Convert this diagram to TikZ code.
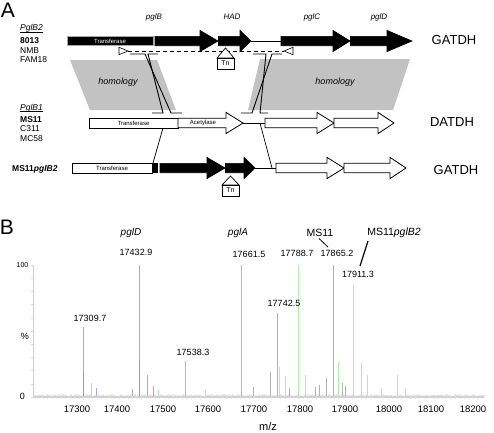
\documentclass[tikz,border=0pt]{standalone}
\usepackage{fontspec}
\setmainfont{Liberation Sans}
\definecolor{homgray}{gray}{0.76}
\definecolor{pkblue}{rgb}{0.66,0.66,0.90}
\definecolor{pkpink}{rgb}{0.94,0.64,0.64}
\definecolor{pkgreen}{rgb}{0.68,0.93,0.68}
\definecolor{pkgray}{gray}{0.70}
\newcommand\genearrow[5]{%
  \draw[#1] (#2,#5-4.7) -- (#3,#5-4.7) -- (#3,#5-10.6) -- (#4,#5) -- (#3,#5+10.6) -- (#3,#5+4.7) -- (#2,#5+4.7) -- cycle;}
\newcommand\specpeak[3]{\draw[#1] (#2,396) -- (#2,#3);}
\begin{document}
\begin{tikzpicture}[x=1pt,y=-1pt,line join=miter,
  genelbl/.style={font=\fontsize{8}{9}\selectfont\itshape, inner sep=0},
  strain/.style={font=\fontsize{8.5}{10}\selectfont, anchor=base west, inner sep=0},
  boxtxt/.style={font=\fontsize{6}{7}\selectfont, inner sep=0},
  bigtxt/.style={font=\fontsize{13}{15}\selectfont, inner sep=0},
  numtxt/.style={font=\fontsize{9}{10}\selectfont, inner sep=0},
  ticktxt/.style={font=\fontsize{9.5}{10}\selectfont, inner sep=0},
  paneltxt/.style={font=\fontsize{21}{23}\selectfont, inner sep=0},
  blackgene/.style={fill=black, draw=black, line width=0.6pt},
  whitegene/.style={fill=white, draw=black, line width=0.8pt},
  thinline/.style={draw=black, line width=0.7pt},
  crossline/.style={draw=black, line width=0.9pt},
  homol/.style={fill=homgray, draw=none}]
\useasboundingbox (0,0) rectangle (494,432);

% ---------------- Panel A ----------------
\node[paneltxt] (labA) at (8,10) {A};

% gene names
\node[genelbl] (gB) at (154,17) {pglB};
\node[genelbl] (gHAD) at (232,17) {HAD};
\node[genelbl] (gC) at (312,17) {pglC};
\node[genelbl] (gD) at (379,17) {pglD};

% strain labels
\node[strain] (s1) at (20,30.5) {\textit{PglB2}};
\draw[black, line width=0.5pt] (s1.base west) ++(0,1.6) -- ++(22.5,0);
\node[strain] (s2) at (20,43.5) {\bfseries 8013};
\node[strain] (s3) at (20,53) {NMB};
\node[strain] (s4) at (20,62.5) {FAM18};
\node[strain] (s5) at (20,110) {\textit{PglB1}};
\draw[black, line width=0.5pt] (s5.base west) ++(0,1.6) -- ++(22.5,0);
\node[strain] (s6) at (20,122) {\bfseries MS11};
\node[strain] (s7) at (20,131.5) {C311};
\node[strain] (s8) at (20,141.5) {MC58};
\node[strain] (s9) at (12,171.5) {\bfseries MS11\textit{pglB2}};

% homology regions
\fill[homol] (70,60) -- (157,60) -- (176,110) -- (90,110) -- cycle;
\fill[homol] (260,59) -- (410,59) -- (393,110) -- (248,110) -- cycle;
\node[font=\fontsize{9}{10}\selectfont\itshape, inner sep=0] (h1) at (118,82) {homology};
\node[font=\fontsize{9}{10}\selectfont\itshape, inner sep=0] (h2) at (335,82) {homology};

% Row 1 (GATDH)
\draw[fill=black, draw=gray!70, line width=0.8pt] (67,36.5) rectangle (153,45.5);
\node[boxtxt, text=white] (t1) at (110,41) {Transferase};
\genearrow{blackgene}{155}{200}{218}{41}
\genearrow{blackgene}{218.5}{240}{251}{41}
\coordinate (r1a) at (251,41);
\coordinate (r1b) at (281,41);
\draw[thinline] (r1a) -- (r1b);
\genearrow{blackgene}{281}{333}{350}{41}
\genearrow{blackgene}{350.5}{387}{412}{41}
\node[bigtxt] (g1) at (454,40) {GATDH};

% primers and dashed line
\coordinate (pl) at (128,51);
\coordinate (pr) at (284,51);
\draw[thinline, dash pattern=on 4pt off 3pt] (pl) -- (pr);
\draw[fill=white, draw=black, line width=0.6pt] (119,47.3) -- (128,51) -- (119,54.7) -- cycle;
\draw[fill=white, draw=black, line width=0.6pt] (293,47.3) -- (284,51) -- (293,54.7) -- cycle;

% Tn row 1
\draw[fill=white, draw=black, line width=0.7pt] (225.5,48) -- (234,58) -- (217,58) -- cycle;
\node[draw=black, line width=0.7pt, fill=white, minimum width=17pt, minimum height=11pt, inner sep=0, font=\fontsize{7}{8}\selectfont] (tn1) at (225.5,63.5) {Tn};

% crossovers
\draw[crossline] (130,54) -- (145,54) -- (171,113) -- (182,113);
\draw[crossline] (158,54) -- (148,54) -- (163,113) -- (152,113);
\draw[crossline] (282,54) -- (272,54) -- (252,113) -- (241,113);
\draw[crossline] (253,54) -- (266,54) -- (260,113) -- (268,113);

% Row 2 (DATDH)
\draw[whitegene] (89,118) rectangle (178,128);
\node[boxtxt] (t2) at (133.5,123) {Transferase};
\genearrow{whitegene}{178}{226}{243}{123}
\node[boxtxt] (ac) at (203,123) {Acetylase};
\coordinate (r2a) at (243,123);
\coordinate (r2b) at (265,123);
\draw[thinline] (r2a) -- (r2b);
\genearrow{whitegene}{265}{317}{334}{123}
\genearrow{whitegene}{334}{378}{394}{123}
\node[bigtxt] (g2) at (452,122) {DATDH};

% Row 3 (MS11pglB2)
\draw[whitegene] (72,163) rectangle (152,173);
\node[boxtxt] (t3) at (112,168) {Transferase};
\fill[black] (152,163) rectangle (158,173);
\genearrow{blackgene}{160}{207}{225}{168}
\genearrow{blackgene}{225.5}{244}{255}{168}
\coordinate (r3a) at (255,168);
\coordinate (r3b) at (276,168);
\draw[thinline] (r3a) -- (r3b);
\genearrow{whitegene}{276}{327}{344}{168}
\genearrow{whitegene}{344}{390}{406}{168}
\node[bigtxt] (g3) at (456,170) {GATDH};

% Tn row 3
\draw[fill=white, draw=black, line width=0.7pt] (230.5,176) -- (239,185) -- (222,185) -- cycle;
\node[draw=black, line width=0.7pt, fill=white, minimum width=17pt, minimum height=11pt, inner sep=0, font=\fontsize{7}{8}\selectfont] (tn2) at (230.5,190.5) {Tn};

% connecting lines row2 -> row3
\coordinate (c1a) at (163,128);
\coordinate (c1b) at (153,163);
\coordinate (c2a) at (260,123);
\coordinate (c2b) at (272,168);
\draw[thinline] (c1a) -- (c1b);
\draw[thinline] (c2a) -- (c2b);

% ---------------- Panel B ----------------
\node[paneltxt] (labB) at (7,227) {B};

% axes
\coordinate (ytop) at (33,265);
\coordinate (ybot) at (33,397);
\coordinate (xend) at (485,397);
\draw[gray!35, line width=0.5pt] (ytop) -- (ybot);
\foreach \t in {0,...,10} {\draw[gray!30, line width=0.4pt] (31,265+13.2*\t) -- (33,265+13.2*\t);}
\draw[gray!35, line width=0.5pt] (ybot) -- (xend);
\foreach \t in {0,...,100} {\draw[gray!25, line width=0.3pt] (34+4.48*\t,397) -- (34+4.48*\t,399);}

% noise
\pgfmathsetseed{2718}
\foreach \i in {34,36,...,484} {
  \pgfmathsetmacro\hh{rnd*2}
  \pgfmathsetmacro\cc{int(mod(\i,8)/2)}
  \ifcase\cc\relax
    \draw[pkgray!60, line width=0.35pt] (\i,396) -- (\i+1,396-\hh) -- (\i+2,396);
  \or
    \draw[pkpink!60, line width=0.35pt] (\i,396) -- (\i+1,396-\hh) -- (\i+2,396);
  \or
    \draw[pkgreen!70, line width=0.35pt] (\i,396) -- (\i+1,396-\hh) -- (\i+2,396);
  \else
    \draw[pkblue!60, line width=0.35pt] (\i,396) -- (\i+1,396-\hh) -- (\i+2,396);
  \fi
}
\draw[pkgray!60, line width=0.4pt] (34,396) -- (484,396);

% secondary peaks
\specpeak{pkgreen, line width=0.5pt}{91}{383}
\specpeak{pkblue, line width=0.5pt}{96}{388}
\specpeak{pkgray, line width=0.5pt}{132}{389}
\specpeak{pkblue, line width=0.6pt}{147}{375}
\specpeak{pkblue, line width=0.5pt}{153}{386}
\specpeak{pkgreen, line width=0.5pt}{158}{390}
\specpeak{pkgreen, line width=0.5pt}{205}{390}
\specpeak{pkgray, line width=0.5pt}{253}{387}
\specpeak{pkgray, line width=0.6pt}{270}{372}
\specpeak{pkgreen, line width=0.6pt}{279}{367}
\specpeak{pkgreen, line width=0.5pt}{285}{377}
\specpeak{pkgray, line width=0.5pt}{289}{388}
\specpeak{pkgreen, line width=0.5pt}{305}{375}
\specpeak{pkgray, line width=0.5pt}{315}{387}
\specpeak{pkgray, line width=0.5pt}{319}{385}
\specpeak{pkgray, line width=0.6pt}{326}{378}
\specpeak{pkgreen, line width=0.6pt}{338}{362}
\specpeak{pkgray, line width=0.5pt}{342}{383}
\specpeak{pkgray, line width=0.5pt}{345}{386}
\specpeak{pkgreen, line width=0.6pt}{361}{363}
\specpeak{pkgreen, line width=0.5pt}{367}{375}
\specpeak{pkgreen, line width=0.5pt}{381}{388}
\specpeak{pkgreen, line width=0.5pt}{397}{375}
\specpeak{pkgreen, line width=0.5pt}{405}{388}

% main peaks
\specpeak{pkblue, line width=0.7pt}{83}{327}
\specpeak{pkgray!130, line width=0.7pt}{83}{372}
\specpeak{pkblue, line width=0.7pt}{139}{265}
\specpeak{pkgray!130, line width=0.7pt}{139}{360}
\specpeak{pkpink, line width=0.7pt}{185}{361}
\specpeak{pkpink, line width=0.7pt}{241}{265}
\specpeak{pkgray, line width=0.7pt}{277}{313}
\specpeak{pkgreen, line width=0.7pt}{298}{265}
\specpeak{pkgray, line width=0.7pt}{333}{265}
\specpeak{pkgreen, line width=0.7pt}{353}{285}

% axis labels
\node[font=\fontsize{7}{8}\selectfont, inner sep=0] (y100) at (22.5,265) {100};
\node[numtxt] (ypc) at (25,336) {\%};
\node[numtxt] (y0) at (22.5,396) {0};
\foreach \v/\xx in {17300/77,17400/117,17500/163,17600/208,17700/254,17800/300,17900/345,18000/389,18100/431,18200/473} {
  \node[ticktxt] (tk\v) at (\xx,409) {\v};
}
\node[font=\fontsize{11}{12}\selectfont, inner sep=0] (mz) at (268,427) {m/z};

% peak labels
\node[numtxt] (p1) at (90,318) {17309.7};
\node[numtxt] (p2) at (136,252) {17432.9};
\node[numtxt] (p3) at (193,352) {17538.3};
\node[numtxt] (p4) at (249,254) {17661.5};
\node[numtxt] (p5) at (284,303) {17742.5};
\node[numtxt] (p6) at (297,253) {17788.7};
\node[numtxt] (p7) at (337,253) {17865.2};
\node[numtxt] (p8) at (358,274) {17911.3};

\node[font=\fontsize{10}{11}\selectfont\itshape, inner sep=0] (lpglD) at (131,233) {pglD};
\node[font=\fontsize{10}{11}\selectfont\itshape, inner sep=0] (lpglA) at (238,233) {pglA};
\node[font=\fontsize{10.5}{11}\selectfont, inner sep=0] (lms11) at (320,233) {MS11};
\node[font=\fontsize{10.5}{11}\selectfont, inner sep=0] (lms11b) at (394,233) {MS11\textit{pglB2}};
\coordinate (m1a) at (319,238.5);
\coordinate (m1b) at (328,247);
\coordinate (m2a) at (368,241);
\coordinate (m2b) at (360,266);
\draw[black, line width=0.8pt] (m1a) -- (m1b);
\draw[black, line width=1.2pt] (m2a) -- (m2b);
\end{tikzpicture}
\end{document}
